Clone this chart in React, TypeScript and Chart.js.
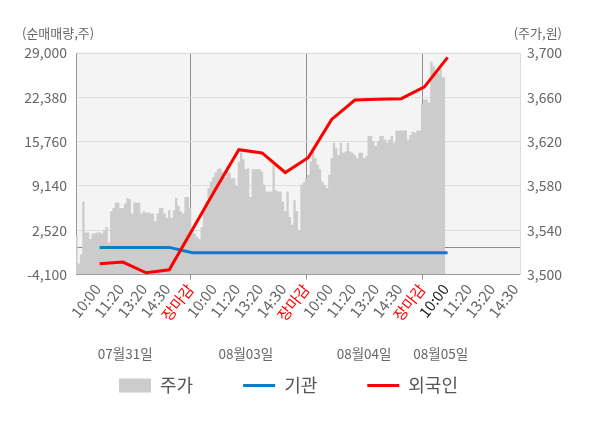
import { useEffect, useRef } from "react";
import { Chart, ChartConfiguration, Plugin, registerables } from "chart.js";

Chart.register(...registerables);

const FONT = '"Noto Sans CJK KR", "Noto Sans", sans-serif';

// x axis: 50 points per trading day, a label every 10 points
const timeLabels = ["10:00", "11:20", "13:20", "14:30", "장마감"];
const dayLabels = ["07월31일", "08월03일", "08월04일", "08월05일"];
const dayLabelIdx = [22, 74, 125, 158];

const leftTicks = [29000, 22380, 15760, 9140, 2520, -4100];
const rightTicks = [3700, 3660, 3620, 3580, 3540, 3500];

// 주가 (원)
const priceDay1 = [
  3535, 3535, 3510, 3518, 3566, 3538, 3538, 3532, 3537, 3537,
  3538, 3538, 3537, 3540, 3543, 3529, 3557, 3560, 3565, 3565,
  3560, 3560, 3564, 3569, 3568, 3555, 3565, 3565, 3565, 3555,
  3557, 3556, 3556, 3555, 3555, 3548, 3555, 3560, 3560, 3555,
  3551, 3558, 3551, 3558, 3569, 3562, 3557, 3555, 3570, 3570,
];
const priceDay2 = [
  3560, 3540, 3537, 3534, 3532, 3543, 3560, 3566, 3578, 3584,
  3588, 3592, 3595, 3596, 3593, 3588, 3598, 3592, 3587, 3587,
  3580, 3602, 3610, 3604, 3595, 3596, 3570, 3595, 3595, 3595,
  3595, 3593, 3581, 3575, 3575, 3575, 3599, 3576, 3575, 3575,
  3566, 3557, 3575, 3552, 3545, 3567, 3557, 3540, 3581, 3583,
];
const priceDay3 = [
  3587, 3590, 3602, 3613, 3605, 3599, 3595, 3584, 3581, 3578,
  3590, 3605, 3619, 3614, 3608, 3619, 3610, 3611, 3619, 3611,
  3610, 3608, 3605, 3610, 3610, 3605, 3607, 3625, 3625, 3620,
  3616, 3620, 3625, 3625, 3622, 3619, 3622, 3625, 3619, 3630,
  3630, 3630, 3630, 3630, 3622, 3626, 3629, 3628, 3630, 3630,
];
const priceDay4 = [3654, 3658, 3658, 3655, 3692, 3688, 3684, 3682, 3686, 3678, 3678];

// 순매매량 (주)
const flowIdx = [11, 21, 31, 41, 51, 61, 71, 81, 91, 101, 111, 121, 131, 141, 151, 161];
const institution = [-50, -50, -50, -50, -835, -835, -835, -835, -835, -835, -835, -835, -835, -835, -835, -835];
const foreigner = [-2490, -2250, -3845, -3390, 2610, 8670, 14555, 14060, 11140, 13400, 19070, 21975, 22080, 22180, 23930, 28350];

const PER_DAY = 50;

const xTicks: { value: number; label: string; close: boolean; latest: boolean }[] = [];
dayLabels.forEach((_, d) => {
  timeLabels.forEach((t, k) => {
    const value = d * PER_DAY + (k + 1) * (PER_DAY / timeLabels.length);
    if (value < 192) {
      xTicks.push({ value, label: t, close: k === timeLabels.length - 1, latest: d === dayLabels.length - 1 && k === 0 });
    }
  });
});
const findTick = (v: number) => xTicks.find((t) => t.value === v);

const decorPlugin: Plugin = {
  id: "decor",
  beforeDraw(chart) {
    const { ctx, chartArea: a } = chart;
    ctx.save();
    ctx.fillStyle = "#f4f4f4";
    ctx.fillRect(a.left, a.top - 1, a.right - a.left, a.bottom - a.top + 1);
    ctx.restore();
  },
  afterDraw(chart) {
    const { ctx, chartArea: a } = chart;
    const x = chart.scales.x;
    ctx.save();
    ctx.fillStyle = "#666";
    ctx.textBaseline = "middle";
    ctx.font = `13px ${FONT}`;
    ctx.textAlign = "left";
    ctx.fillText("(순매매량,주)", 22, a.top - 20);
    ctx.textAlign = "right";
    ctx.fillText("(주가,원)", a.right + 42, a.top - 20);
    ctx.font = `13.5px ${FONT}`;
    ctx.textAlign = "center";
    dayLabels.forEach((t, i) => {
      ctx.fillText(t, x.getPixelForValue(dayLabelIdx[i]), a.bottom + 79);
    });
    ctx.restore();
  },
};

export default function App() {
  const chartRef = useRef<HTMLCanvasElement>(null);
  const chartInstance = useRef<Chart | null>(null);

  useEffect(() => {
    if (!chartRef.current) return;
    const ctx = chartRef.current.getContext("2d");
    if (!ctx) return;

    if (chartInstance.current) {
      chartInstance.current.destroy();
    }

    Chart.defaults.font.family = FONT;
    Chart.defaults.color = "#666";

    const price = [...priceDay1, ...priceDay2, ...priceDay3, ...priceDay4];

    const config: ChartConfiguration = {
      type: "line",
      data: {
        datasets: [
          {
            label: "주가",
            data: price.map((y, i) => ({ x: i, y })),
            yAxisID: "y1",
            borderWidth: 0,
            backgroundColor: "#cccccc",
            fill: "start",
            stepped: "middle",
            pointRadius: 0,
            pointStyle: "rect",
            pointBorderWidth: 0,
            order: 3,
            clip: 0,
          } as any,
          {
            label: "기관",
            data: flowIdx.map((x, i) => ({ x, y: institution[i] })),
            yAxisID: "y",
            borderColor: "#0a7ec8",
            backgroundColor: "#0a7ec8",
            borderWidth: 3,
            pointRadius: 0,
            pointStyle: "line",
            pointBorderWidth: 3,
            fill: false,
            order: 2,
          },
          {
            label: "외국인",
            data: flowIdx.map((x, i) => ({ x, y: foreigner[i] })),
            yAxisID: "y",
            borderColor: "#ff0000",
            backgroundColor: "#ff0000",
            borderWidth: 3,
            pointRadius: 0,
            pointStyle: "line",
            pointBorderWidth: 3,
            fill: false,
            order: 1,
          },
        ],
      },
      options: {
        responsive: false,
        animation: false,
        layout: { padding: { top: 53, right: 23, bottom: 23.5, left: 0 } },
        plugins: {
          legend: {
            position: "bottom",
            labels: {
              usePointStyle: true,
              pointStyleWidth: 32,
              boxHeight: 14,
              padding: 50,
              color: "#555",
              font: { size: 18, family: FONT },
              sort: (a, b) => (a.datasetIndex ?? 0) - (b.datasetIndex ?? 0),
            },
          },
          tooltip: { enabled: false },
        },
        scales: {
          x: {
            type: "linear",
            min: 0.8,
            max: 192.2,
            afterBuildTicks: (axis) => {
              axis.ticks = xTicks.map((t) => ({ value: t.value }));
            },
            afterFit: (axis) => {
              axis.height = 52;
            },
            grid: {
              color: (c: any) => (findTick(c.tick?.value)?.close ? "#8c8c8c" : "rgba(0,0,0,0)"),
              tickColor: (c: any) => (findTick(c.tick?.value)?.close ? "#8c8c8c" : "rgba(0,0,0,0)"),
              tickLength: 5,
            },
            border: { color: "#999" },
            ticks: {
              autoSkip: false,
              minRotation: 52,
              maxRotation: 52,
              padding: 1,
              font: { size: 15 },
              color: (c: any) => {
                const t = findTick(c.tick?.value);
                if (t?.close) return "#ff0000";
                if (t?.latest) return "#222";
                return "#666";
              },
              callback: (v) => findTick(Number(v))?.label ?? "",
            },
          },
          y: {
            type: "linear",
            position: "left",
            min: -4100,
            max: 29000,
            afterBuildTicks: (axis) => {
              axis.ticks = [...leftTicks, 0].sort((a, b) => a - b).map((value) => ({ value }));
            },
            afterFit: (axis) => {
              axis.width = 76;
            },
            grid: {
              color: (c: any) => (c.tick?.value === 0 ? "#8c8c8c" : "#dddddd"),
              drawTicks: false,
            },
            border: { color: "#999" },
            ticks: {
              padding: 9,
              color: "#666",
              font: { size: 14 },
              callback: (v) => (Number(v) === 0 ? "" : Number(v).toLocaleString("en-US")),
            },
          },
          y1: {
            type: "linear",
            position: "right",
            min: 3500,
            max: 3700,
            afterBuildTicks: (axis) => {
              axis.ticks = rightTicks.map((value) => ({ value }));
            },
            afterFit: (axis) => {
              axis.width = 57;
            },
            grid: { drawOnChartArea: false, drawTicks: false },
            border: { color: "#dddddd" },
            ticks: {
              padding: 7,
              color: "#666",
              font: { size: 14 },
              callback: (v) => Number(v).toLocaleString("en-US"),
            },
          },
        },
      },
      plugins: [decorPlugin],
    };

    chartInstance.current = new Chart(ctx, config);

    return () => {
      if (chartInstance.current) {
        chartInstance.current.destroy();
        chartInstance.current = null;
      }
    };
  }, []);

  return (
    <div style={{ position: "absolute", left: 0, top: 0, width: 600, height: 428, background: "#fff" }}>
      <canvas ref={chartRef} width={600} height={428} style={{ display: "block" }} />
    </div>
  );
}
